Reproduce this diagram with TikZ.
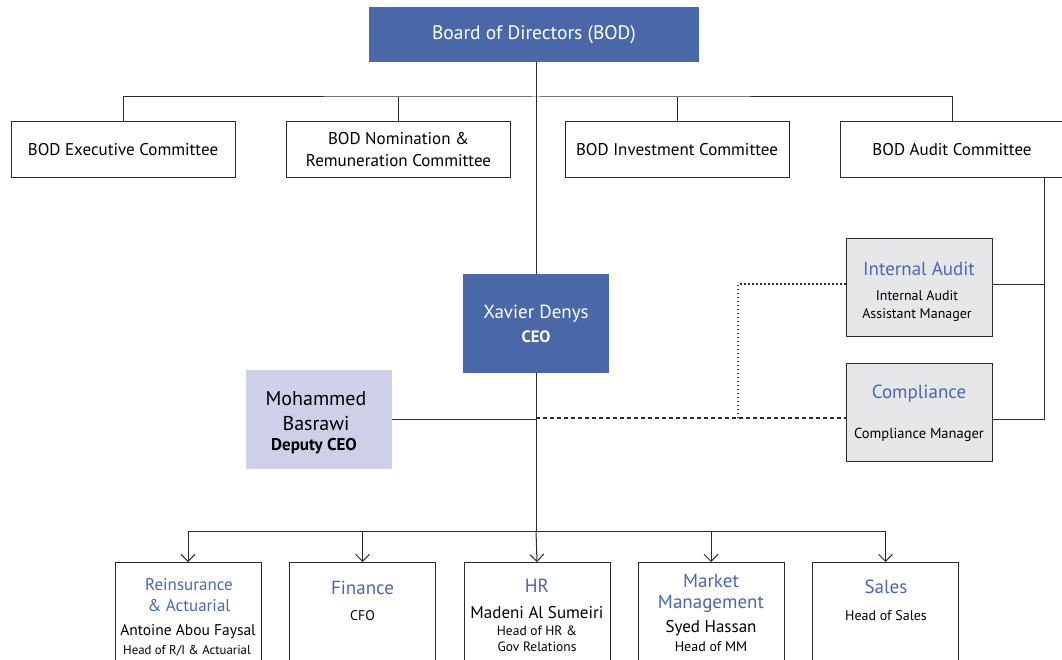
\documentclass[tikz,border=0pt]{standalone}
\usepackage{fontspec}
\setmainfont{PT Sans}
\usetikzlibrary{arrows.meta}
\definecolor{bodblue}{HTML}{4A67A8}
\definecolor{titleblue}{HTML}{4A67B0}
\definecolor{deplav}{HTML}{CDD0E8}
\definecolor{boxgray}{HTML}{E6E7E8}
\definecolor{linegray}{HTML}{2B2B2B}
\tikzset{
  bluebox/.style={rectangle, fill=bodblue, text=white, inner sep=0pt, align=center},
  combox/.style={rectangle, draw=linegray, line width=1pt, fill=white, minimum width=224pt, minimum height=56pt, inner sep=0pt, align=center, font=\fontsize{17}{22}\selectfont},
  graybox/.style={rectangle, draw=linegray, line width=1pt, fill=boxgray, minimum width=146pt, minimum height=98pt, inner sep=0pt},
  unitbox/.style={rectangle, draw=linegray, line width=1pt, fill=white, minimum width=146pt, minimum height=120pt, inner sep=0pt, anchor=north},
  txt/.style={inner sep=0pt, align=center},
  conn/.style={draw=linegray, line width=1pt},
  arr/.style={conn, -{Straight Barb[length=7pt,width=14pt,line width=1pt]}},
  ttl/.style={txt, text=titleblue, font=\fontsize{19}{21}\selectfont},
  sub/.style={txt, font=\fontsize{14}{18}\selectfont},
  nm/.style={txt, font=\fontsize{17}{20}\selectfont},
}
\begin{document}
\begin{tikzpicture}[x=1pt,y=-1pt]
\useasboundingbox (0,0) rectangle (1062,660);
\clip (0,0) rectangle (1062,660);
% board
\node[bluebox, minimum width=330pt, minimum height=55pt, font=\fontsize{19.5}{22}\selectfont] (bod) at (534,34.5) {Board of Directors (BOD)};
% committees
\node[combox] (exec) at (123,150) {BOD Executive Committee};
\node[combox] (nom) at (398.5,150) {BOD Nomination \&\\Remuneration Committee};
\node[combox] (inv) at (677,150) {BOD Investment Committee};
\node[combox] (aud) at (952,150) {BOD Audit Committee};
% CEO
\node[bluebox, minimum width=146pt, minimum height=99pt] (ceo) at (536,323.5) {};
\node[txt, text=white, font=\fontsize{19}{22}\selectfont] (ceoname) at (536,314) {Xavier Denys};
\node[txt, text=white, font=\bfseries\fontsize{16.5}{20}\selectfont] (ceot) at (536,337) {CEO};
% deputy
\node[rectangle, fill=deplav, minimum width=146pt, minimum height=99pt, inner sep=0pt] (dep) at (319,419.5) {};
\node[txt, font=\fontsize{20}{25}\selectfont] (depname) at (316,411) {Mohammed\\Basrawi};
\node[txt, font=\bfseries\fontsize{17}{20}\selectfont] (dept) at (314,446) {Deputy CEO};
% internal audit / compliance
\node[graybox] (ia) at (919,287.5) {};
\node[ttl] (iat) at (919,269) {Internal Audit};
\node[sub] (ias) at (917,306) {Internal Audit\\Assistant Manager};
\node[graybox] (comp) at (919,412) {};
\node[ttl] (compt) at (919,394) {Compliance};
\node[sub, font=\fontsize{14.5}{18}\selectfont] (comps) at (919,435) {Compliance Manager};
% bottom units
\node[unitbox] (ri) at (188,562) {};
\node[unitbox] (fin) at (362.5,562) {};
\node[unitbox] (hr) at (537,562) {};
\node[unitbox] (mm) at (711,562) {};
\node[unitbox] (sal) at (885.5,562) {};
\node[ttl, font=\fontsize{17}{21}\selectfont] (rit) at (189,595) {Reinsurance\\\& Actuarial};
\node[nm, font=\fontsize{15.5}{20}\selectfont] (rin) at (188,632) {Antoine Abou Faysal};
\node[sub, font=\fontsize{12.8}{16}\selectfont] (ris) at (187,651) {Head of R/I \& Actuarial};
\node[ttl] (fint) at (362.5,588) {Finance};
\node[sub] (fins) at (362.5,616) {CFO};
\node[ttl] (hrt) at (537,586) {HR};
\node[nm] (hrn) at (537,613) {Madeni Al Sumeiri};
\node[sub, font=\fontsize{13.5}{16}\selectfont] (hrs) at (537,639) {Head of HR \&\\Gov Relations};
\node[ttl, font=\fontsize{19}{21}\selectfont] (mmt) at (711,593) {Market\\Management};
\node[nm] (mmn) at (711,628) {Syed Hassan};
\node[sub] (mms) at (711,647) {Head of MM};
\node[ttl] (salt) at (886,587) {Sales};
\node[sub] (sals) at (886,616) {Head of Sales};
% coordinates
\coordinate (tb) at (536,97);
\coordinate (bb) at (536,531);
\coordinate (cr) at (536,419);
\coordinate (ar) at (1044,419);
\coordinate (dj) at (738,418);
% connectors: board
\draw[conn] (bod.south -| ceo.north) -- (ceo.north);
\draw[conn] (exec.north) |- (tb) -| (aud.north);
\draw[conn] (nom.north) -- (nom.north |- tb);
\draw[conn] (inv.north) -- (inv.north |- tb);
\draw[conn] (ceo.south) -- (bb);
\draw[conn] (dep.east |- cr) -- (cr);
% audit branch
\draw[conn] (aud.south -| ar) -- (ar) -- (comp.east |- ar);
\draw[conn] (ia.east |- 0,284) -- (1044,284);
% dashed/dotted
\draw[draw=linegray, line width=1.2pt, dash pattern=on 4pt off 3pt] (536,418) -- (comp.west |- dj);
\draw[draw=linegray, line width=1.5pt, dash pattern=on 1.5pt off 2.5pt] (dj) -- (738,284) -- (ia.west |- 0,284);
% bottom branch
\draw[conn] (ri.north |- bb) -- (sal.north |- bb);
\draw[arr] (ri.north |- bb) -- (ri.north);
\draw[arr] (fin.north |- bb) -- (fin.north);
\draw[arr] (bb) -- (hr.north);
\draw[arr] (mm.north |- bb) -- (mm.north);
\draw[arr] (sal.north |- bb) -- (sal.north);
\end{tikzpicture}
\end{document}
